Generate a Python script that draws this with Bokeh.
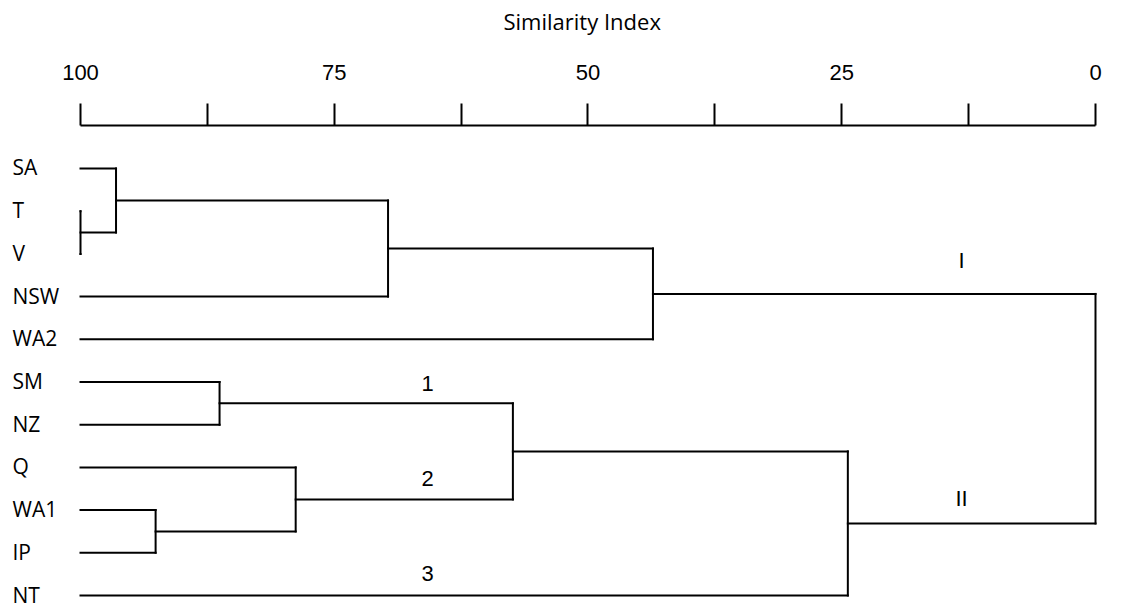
from bokeh.plotting import figure
from bokeh.models import Range1d, LinearAxis, FixedTicker, ColumnDataSource, Title
from bokeh.core.properties import value
from bokeh.embed import file_html
from bokeh.resources import INLINE

# ---- data ----
leaves = ["SA", "T", "V", "NSW", "WA2", "SM", "NZ", "Q", "WA1", "IP", "NT"]
# merges in order; ids 0..10 are leaves, merge k creates node 11+k
merge_left = [1, 0, 12, 13, 5, 8, 7, 15, 18, 14]
merge_right = [2, 11, 3, 4, 6, 9, 16, 17, 10, 19]
merge_sim = [100, 96.5, 69.7, 43.6, 86.3, 92.6, 78.8, 57.4, 24.4, 0]

tick_values = [100, 87.5, 75, 62.5, 50, 37.5, 25, 12.5, 0]
tick_labels = ["100", "", "75", "", "50", "", "25", "", "0"]

group_names = ["I", "II", "1", "2", "3"]
group_sim = [13.2, 13.2, 65.8, 65.8, 65.8]
group_node = [14, 19, 15, 17, 10]
group_gap = [-33, -25, -20, -21, -22]

# ---- dendrogram geometry from the tree ----
n = len(leaves)
node_x = {i: 100.0 for i in range(n)}
node_y = {i: float(i) for i in range(n)}
x0, y0, x1, y1 = [], [], [], []
for k, (a, b, s) in enumerate(zip(merge_left, merge_right, merge_sim)):
    for c in (a, b):
        x0.append(node_x[c]); y0.append(node_y[c]); x1.append(s); y1.append(node_y[c])
    x0.append(s); y0.append(node_y[a]); x1.append(s); y1.append(node_y[b])
    node_x[n + k] = s
    node_y[n + k] = (node_y[a] + node_y[b]) / 2

seg = ColumnDataSource(dict(x0=x0, y0=y0, x1=x1, y1=y1))

p = figure(width=1121, height=605,
           x_range=Range1d(107.882, -2.562), y_range=Range1d(10.234, -1.007),
           output_backend="svg", toolbar_location=None,
           x_axis_location=None, y_axis_location=None,
           min_border_left=0, min_border_right=0, min_border_bottom=0, min_border_top=125)
p.outline_line_color = None
p.background_fill_color = "white"
p.border_fill_color = "white"
for r in p.center:
    r.visible = False

p.segment(x0="x0", y0="y0", x1="x1", y1="y1", source=seg,
          line_color="black", line_width=2, line_cap="square")

axis = LinearAxis(ticker=FixedTicker(ticks=tick_values), bounds=(0, 100))
axis.major_label_overrides = {float(v): t for v, t in zip(tick_values, tick_labels)}
axis.axis_line_width = 2
axis.axis_line_color = "black"
axis.major_tick_line_width = 2
axis.major_tick_line_color = "black"
axis.major_tick_out = 22
axis.major_tick_in = 0
axis.minor_tick_out = 0
axis.minor_tick_in = 0
axis.major_label_text_font = "Liberation Sans"
axis.major_label_text_font_size = "22px"
axis.major_label_text_color = "black"
axis.major_label_standoff = 24
p.add_layout(axis, "above")

# blank spacer band between the tick labels and the title
spacer = LinearAxis(ticker=FixedTicker(ticks=[105.0]))
spacer.major_label_overrides = {105.0: ""}
spacer.axis_line_color = None
spacer.major_tick_line_color = "white"
spacer.minor_tick_line_color = None
spacer.major_tick_out = 25
spacer.major_tick_in = 0
spacer.minor_tick_out = 0
spacer.minor_tick_in = 0
spacer.major_label_standoff = 0
spacer.major_label_text_font_size = "0px"
p.add_layout(spacer, "above")

title = Title(text="Similarity Index", align="left", offset=503, standoff=2,
              text_font="Open Sans", text_font_size="22px",
              text_font_style="normal", text_color="black")
p.add_layout(title, "above")

leaf_src = ColumnDataSource(dict(x=[100.0] * n, y=[node_y[i] for i in range(n)], t=leaves))
p.text(x="x", y="y", text="t", source=leaf_src, x_offset=-68, y_offset=-1,
       text_align="left", text_baseline="middle",
       text_font=value("Open Sans"), text_font_size="21px", text_color="black")

grp_src = ColumnDataSource(dict(x=group_sim, y=[node_y[g] for g in group_node],
                                t=group_names, off=group_gap))
p.text(x="x", y="y", text="t", source=grp_src, y_offset="off",
       text_align="center", text_baseline="middle",
       text_font=value("Liberation Sans"), text_font_size="22px", text_color="black")

open("out.html", "w").write(file_html(p, INLINE))
